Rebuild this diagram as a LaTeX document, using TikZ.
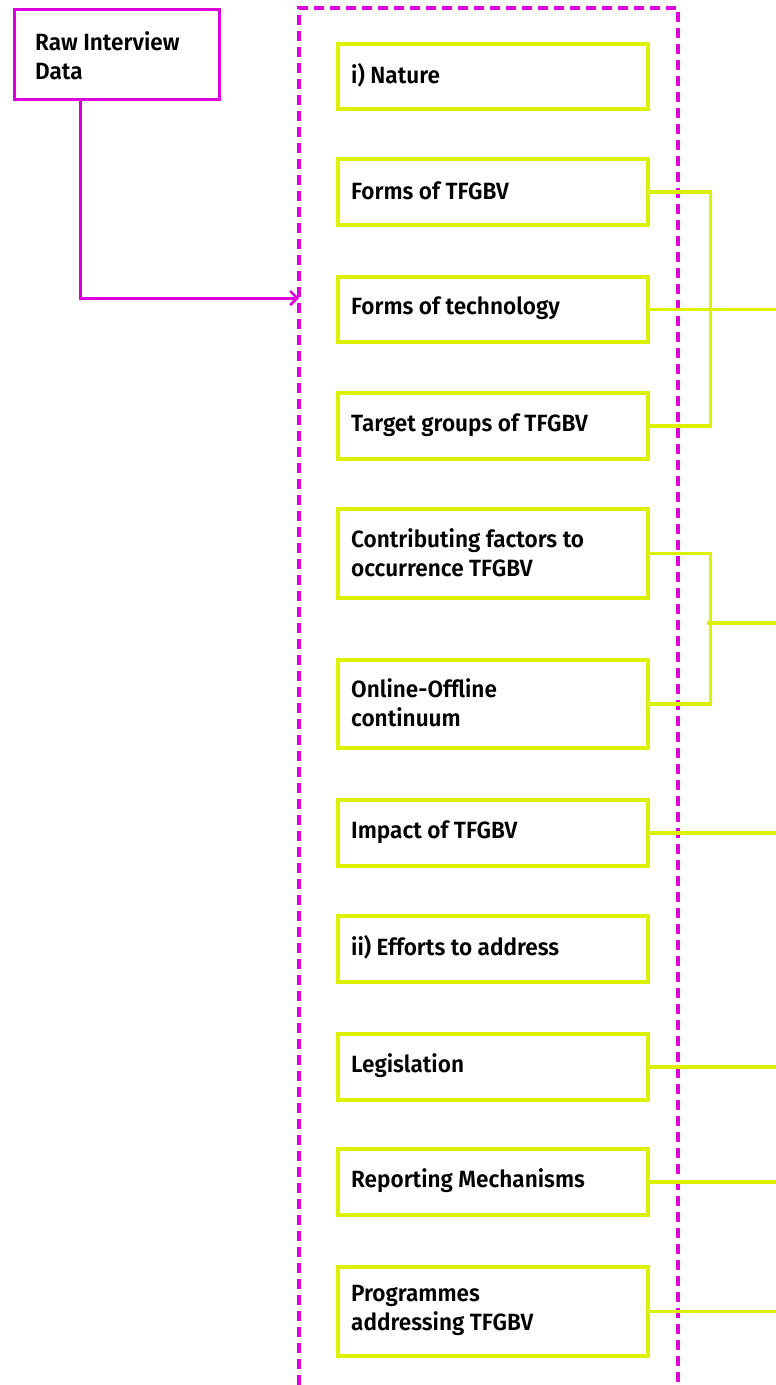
\documentclass[tikz,border=0pt]{standalone}
\usepackage{fontspec}
\setmainfont{Fira Sans}[FakeStretch=0.96, UprightFont=* SemiBold, BoldFont=* Bold]
\usetikzlibrary{arrows.meta}
\definecolor{mag}{HTML}{DD00DD}
\definecolor{lime}{HTML}{DDF000}
\begin{document}
\begin{tikzpicture}[x=1pt,y=-1pt,
  mbox/.style={draw=mag,line width=3.2pt,anchor=north west,inner sep=0pt},
  ybox/.style={draw=lime,line width=3.5pt,fill=white,anchor=north west,inner sep=0pt},
  lbl/.style={anchor=west,align=left,font=\fontsize{23.5}{29}\selectfont,text=black,inner sep=0pt},
  mline/.style={draw=mag,line width=3pt},
  yline/.style={draw=lime,line width=3.5pt}]
\useasboundingbox (0,0) rectangle (776,1385);
\fill[white] (0,0) rectangle (776,1385);
% container
\draw[mag,line width=3.2pt,dash pattern=on 10pt off 6pt] (299,1385) -- (299,8) -- (678,8) -- (678,1385);
% raw box
\node[mbox,minimum width=205pt,minimum height=90pt] (raw) at (13,8) {};
\node[lbl] (rawt) at (35,56) {Raw Interview\\Data};
\coordinate (tgt) at (299,298);
\draw[mline,-{Straight Barb[length=7pt,width=14pt,line width=2.5pt]}] (80,98) |- (tgt);
% yellow boxes
\foreach \n/\y/\h in {b1/42/65, b2/157/66, b3/275/65, b4/391/66, b5/507/89, b6/658/88, b7/798/66, b8/914/66, b9/1032/66, b10/1147/66, b11/1265/89}{
  \node[ybox,minimum width=310pt,minimum height=\h pt] (\n) at (336,\y) {};
}
\node[lbl] at ([xshift=15pt,yshift=1pt]b1.west) {i) Nature};
\node[lbl] at ([xshift=15pt,yshift=1pt]b2.west) {Forms of TFGBV};
\node[lbl] at ([xshift=15pt,yshift=1pt]b3.west) {Forms of technology};
\node[lbl] at ([xshift=15pt,yshift=1pt]b4.west) {Target groups of TFGBV};
\node[lbl] at ([xshift=15pt,yshift=1pt]b5.west) {Contributing factors to\\occurrence TFGBV};
\node[lbl] at ([xshift=15pt,yshift=1pt]b6.west) {Online-Offline\\continuum};
\node[lbl] at ([xshift=15pt,yshift=1pt]b7.west) {Impact of TFGBV};
\node[lbl] at ([xshift=15pt,yshift=1pt]b8.west) {ii) Efforts to address};
\node[lbl] at ([xshift=15pt,yshift=1pt]b9.west) {Legislation};
\node[lbl] at ([xshift=15pt,yshift=1pt]b10.west) {Reporting Mechanisms};
\node[lbl] at ([xshift=15pt,yshift=1pt]b11.west) {Programmes\\addressing TFGBV};
% connectors
\coordinate (edge) at (776,0);
\coordinate (j2) at (707,623);
\draw[yline] (b2.east) -- ++(61,0) |- (b4.east);
\draw[yline] (b3.east) -- (b3.east -| edge);
\draw[yline] (b5.east) -- ++(61,0) |- (b6.east);
\draw[yline] (j2) -- (j2 -| edge);
\draw[yline] (b7.east) -- (b7.east -| edge);
\draw[yline] (b9.east) -- (b9.east -| edge);
\draw[yline] (b10.east) -- (b10.east -| edge);
\draw[yline] (b11.east) -- (b11.east -| edge);
\end{tikzpicture}
\end{document}
